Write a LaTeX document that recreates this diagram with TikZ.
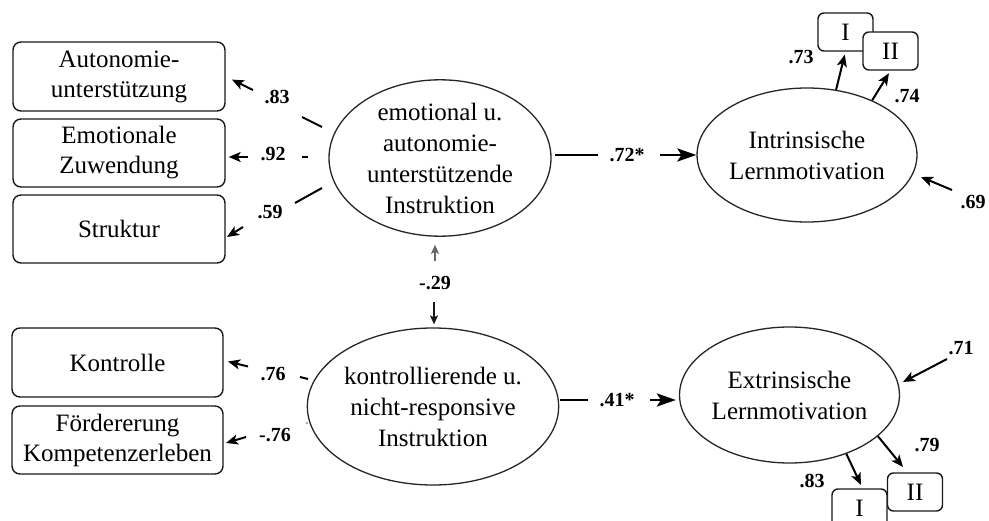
\documentclass[tikz,border=0pt]{standalone}
\usepackage{fontspec}
\setmainfont{Liberation Serif}
\usetikzlibrary{shapes.geometric,arrows.meta}

\begin{document}
\begin{tikzpicture}[x=1pt,y=-1pt,
  every node/.style={font=\fontsize{25}{30}\selectfont, align=center, inner sep=0pt},
  ibox/.style={draw=black!90, line width=1.4pt, rounded corners=8pt,
    minimum width=212pt, minimum height=68pt, fill=white},
  sbox/.style={draw=black!90, line width=1.4pt, rounded corners=6pt,
    minimum width=55pt, minimum height=38pt, fill=white},
  latent/.style={draw=black!85, line width=1.3pt, ellipse, fill=white,
    font=\fontsize{25}{31}\selectfont},
  coef/.style={font=\fontsize{20}{22}\selectfont\bfseries},
  stub/.style={line width=2pt},
  loadarrow/.style={line width=2pt, -{Stealth[length=12pt,width=10pt,inset=3pt]}},
  mainarrow/.style={line width=2.6pt, -{Stealth[length=19pt,width=13pt,inset=4pt]}},
  corrarrow/.style={line width=1.2pt, draw=black!60,
    -{Stealth[length=9pt,width=8pt,inset=2pt]}},
]
\useasboundingbox (0,0) rectangle (989,521);
\fill[white] (0,0) rectangle (989,521);
\clip (0,0) rectangle (989,521);

% indicator boxes on the left
\node[ibox, minimum height=69pt] (aut) at (119,76.5) {Autonomie-\\unterstützung};
\node[ibox] (emo) at (119,153) {Emotionale\\Zuwendung};
\node[ibox] (str) at (119,229) {Struktur};
\node[ibox, minimum width=211pt, minimum height=69pt] (kon) at (117.5,362.5) {Kontrolle};
\node[ibox, minimum width=211pt] (foe) at (117.5,440) {Fördererung\\Kompetenzerleben};

% latent variables
\node[latent, minimum width=222pt, minimum height=152pt] (eai) at (440,158)
  {emotional u.\\autonomie-\\unterstützende\\Instruktion};
\node[latent, minimum width=230pt, minimum height=157pt] (knr) at (433,406.5)
  {kontrollierende u.\\nicht-responsive\\Instruktion};
\node[latent, minimum width=212pt, minimum height=134pt] (ilm) at (807,155)
  {Intrinsische\\Lernmotivation};
\node[latent, minimum width=215pt, minimum height=136pt] (elm) at (789.5,395)
  {Extrinsische\\Lernmotivation};

% item parcels
\node[sbox] (i1) at (845.5,32) {I};
\node[sbox] (i2) at (890.5,51) {II};
\node[sbox] (x2) at (915,492) {II};
\node[sbox] (x1) at (859.5,508) {I};

% coefficients
\node[coef] (c83) at (277,97) {.83};
\node[coef] (c92) at (273,154) {.92};
\node[coef] (c59) at (270,212) {.59};
\node[coef] (c76) at (273,374) {.76};
\node[coef] (cm76) at (275,435) {-.76};
\node[coef] (c72) at (627,155) {.72*};
\node[coef] (c41) at (617,400) {.41*};
\node[coef] (cm29) at (435,283) {-.29};
\node[coef] (c73) at (801,57) {.73};
\node[coef] (c74) at (907,96) {.74};
\node[coef] (c69) at (973,202) {.69};
\node[coef] (c71) at (961,348) {.71};
\node[coef] (c83b) at (812,481) {.83};
\node[coef] (c79) at (927,445) {.79};

% loadings of the first factor
\coordinate (s83) at (322,127); \coordinate (e83) at (302,117); \coordinate (t83) at (253,90);
\draw[stub] (s83) -- (e83);
\draw[loadarrow, shorten >=7pt] (t83) -- (aut.east);

\coordinate (s92) at (302,157); \coordinate (e92) at (308,157); \coordinate (t92) at (248,157);
\draw[stub] (s92) -- (e92);
\draw[loadarrow, shorten >=3pt] (t92) -- (t92 -| emo.east);

\coordinate (s59) at (322,188); \coordinate (e59) at (295,203);
\coordinate (t59) at (243,227); \coordinate (h59) at (227,237);
\draw[stub] (s59) -- (e59);
\draw[loadarrow] (t59) -- (h59);

% loadings of the second factor
\coordinate (s76) at (300,377); \coordinate (e76) at (308,379);
\coordinate (t76) at (248,366.5); \coordinate (h76) at (228,361.5);
\draw[stub] (s76) -- (e76);
\draw[loadarrow] (t76) -- (h76);

\fill[black!35] (307,423) circle (1.3pt);
\coordinate (tm76) at (246,437); \coordinate (hm76) at (226,443);
\draw[loadarrow] (tm76) -- (hm76);

% structural paths
\coordinate (s72) at (555,155); \coordinate (e72) at (598,155); \coordinate (t72) at (660,155);
\draw[stub, line width=2.2pt] (s72) -- (e72);
\draw[mainarrow] (t72) -- (t72 -| ilm.west);

\coordinate (s41) at (560,400); \coordinate (e41) at (588,400); \coordinate (t41) at (650,400);
\draw[stub, line width=2.2pt] (s41) -- (e41);
\draw[mainarrow, shorten >=3pt] (t41) -- (t41 -| elm.west);

% correlation between the two factors
\coordinate (u29) at (435,261); \coordinate (d29) at (434,302);
\draw[corrarrow, shorten >=8pt] (u29) -- (u29 |- eai.south);
\draw[corrarrow, draw=black!90, shorten >=3pt] (d29) -- (d29 |- knr.north);

% indicators of intrinsic motivation
\draw[loadarrow, shorten >=3pt] (ilm.66.6) -- (i1.south);
\draw[loadarrow, shorten >=3pt] (ilm.40.2) -- (i2.south);
\coordinate (r69) at (952,190); \coordinate (h69) at (921,177);
\draw[loadarrow] (r69) -- (h69);

% indicators of extrinsic motivation
\coordinate (h83b) at (861,485);
\draw[loadarrow] (elm.-46.7) -- (h83b);
\coordinate (h79) at (903,467);
\draw[loadarrow] (elm.-25.5) -- (h79);
\coordinate (r71) at (947,359); \coordinate (h71) at (903,382);
\draw[loadarrow] (r71) -- (h71);
\end{tikzpicture}
\end{document}
